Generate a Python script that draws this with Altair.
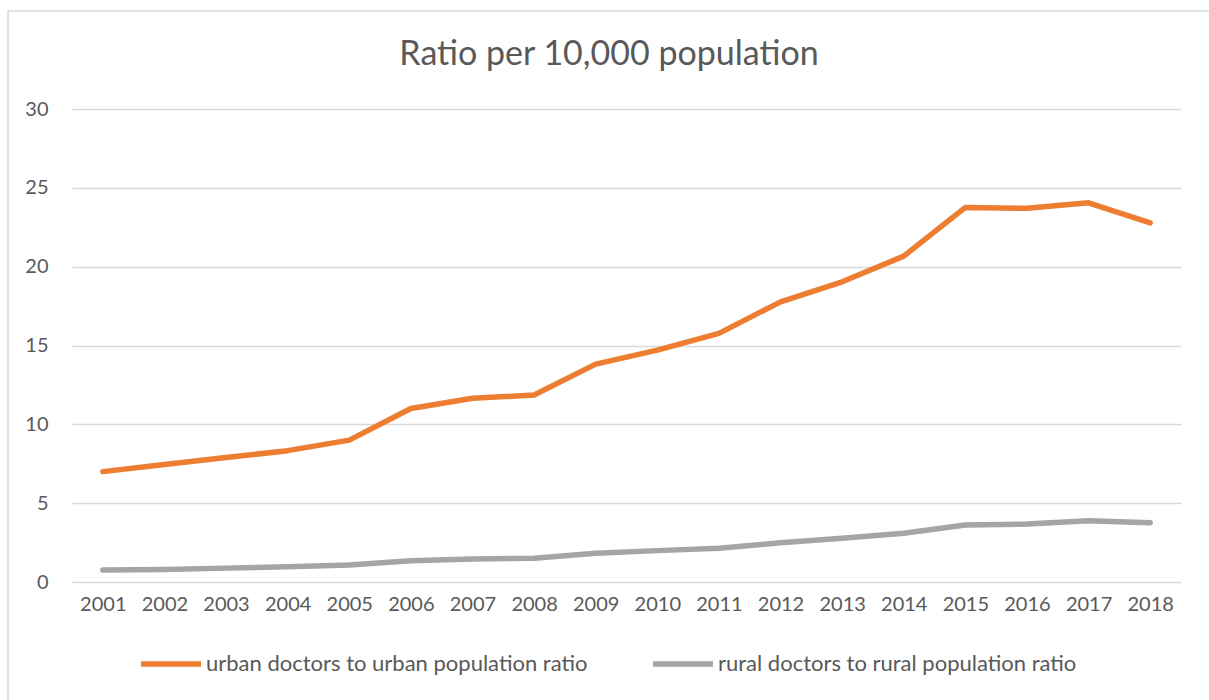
import altair as alt
import pandas as pd

# Doctors per 10,000 population, urban vs rural
years = [str(y) for y in range(2001, 2019)]
urban = [7.0, 7.45, 7.9, 8.33, 9.0, 11.0, 11.65, 11.86, 13.82, 14.71,
         15.77, 17.77, 19.04, 20.67, 23.76, 23.7, 24.05, 22.78]
rural = [0.76, 0.8, 0.88, 0.96, 1.08, 1.35, 1.46, 1.5, 1.82, 1.99,
         2.14, 2.49, 2.77, 3.09, 3.61, 3.68, 3.89, 3.76]
series = ["urban doctors to urban population ratio",
          "rural doctors to rural population ratio"]
colors = ["#ED7D31", "#A5A5A5"]
y_ticks = [0, 5, 10, 15, 20, 25, 30]
title_text = "Ratio per 10,000 population"

rows = []
for i, yr in enumerate(years):
    rows.append({"year": yr, "series": series[0], "value": urban[i]})
    rows.append({"year": yr, "series": series[1], "value": rural[i]})
df = pd.DataFrame(rows)

FONT = "Lato"
TXT = "#595959"
W, H = 1109, 473

lines = alt.Chart(df).mark_line(strokeWidth=5.5, strokeCap="round", strokeJoin="round").encode(
    x=alt.X("year:O", sort=years,
            scale=alt.Scale(type="point", padding=0.5),
            axis=alt.Axis(title=None, labelAngle=0, ticks=False, domain=False, grid=False,
                          labelFontSize=20, labelColor=TXT, labelFont=FONT, labelPadding=12)),
    y=alt.Y("value:Q", scale=alt.Scale(domain=[0, 30], nice=False),
            axis=alt.Axis(title=None, values=y_ticks, ticks=False, domain=False,
                          gridColor="#D9D9D9", gridWidth=1.5,
                          labelFontSize=20, labelColor=TXT, labelFont=FONT, labelPadding=24)),
    color=alt.Color("series:N", sort=series,
                    scale=alt.Scale(domain=series, range=colors),
                    legend=alt.Legend(title=None, orient="none", direction="horizontal",
                                      legendX=66, legendY=522,
                                      symbolType="stroke", symbolSize=3600, symbolStrokeWidth=5.5,
                                      labelFontSize=22, labelColor=TXT, labelFont=FONT,
                                      labelLimit=0, labelOffset=2, columnPadding=54, padding=0)),
)

# Light outline around the whole chart
frame = alt.Chart(pd.DataFrame({"f": [0]})).mark_rect(
    fill=None, stroke="#D9D9D9", strokeWidth=1.5
).encode(
    x=alt.value(-64), x2=alt.value(W + 40),
    y=alt.value(-98), y2=alt.value(H + 130),
)

# Chart heading, centred over the whole figure
heading = alt.Chart(pd.DataFrame({"t": [title_text]})).mark_text(
    font=FONT, fontSize=34, color=TXT, align="center", baseline="middle"
).encode(
    text="t:N", x=alt.value(537), y=alt.value(-54),
)

chart = alt.layer(frame, lines, heading).properties(
    width=W, height=H,
    padding={"left": 72, "top": 109, "right": 28, "bottom": 118},
    autosize=alt.AutoSizeParams(type="none"),
    background="white",
).configure_view(stroke=None)

chart.save("out.html", embed_options={"renderer": "svg", "actions": False})
